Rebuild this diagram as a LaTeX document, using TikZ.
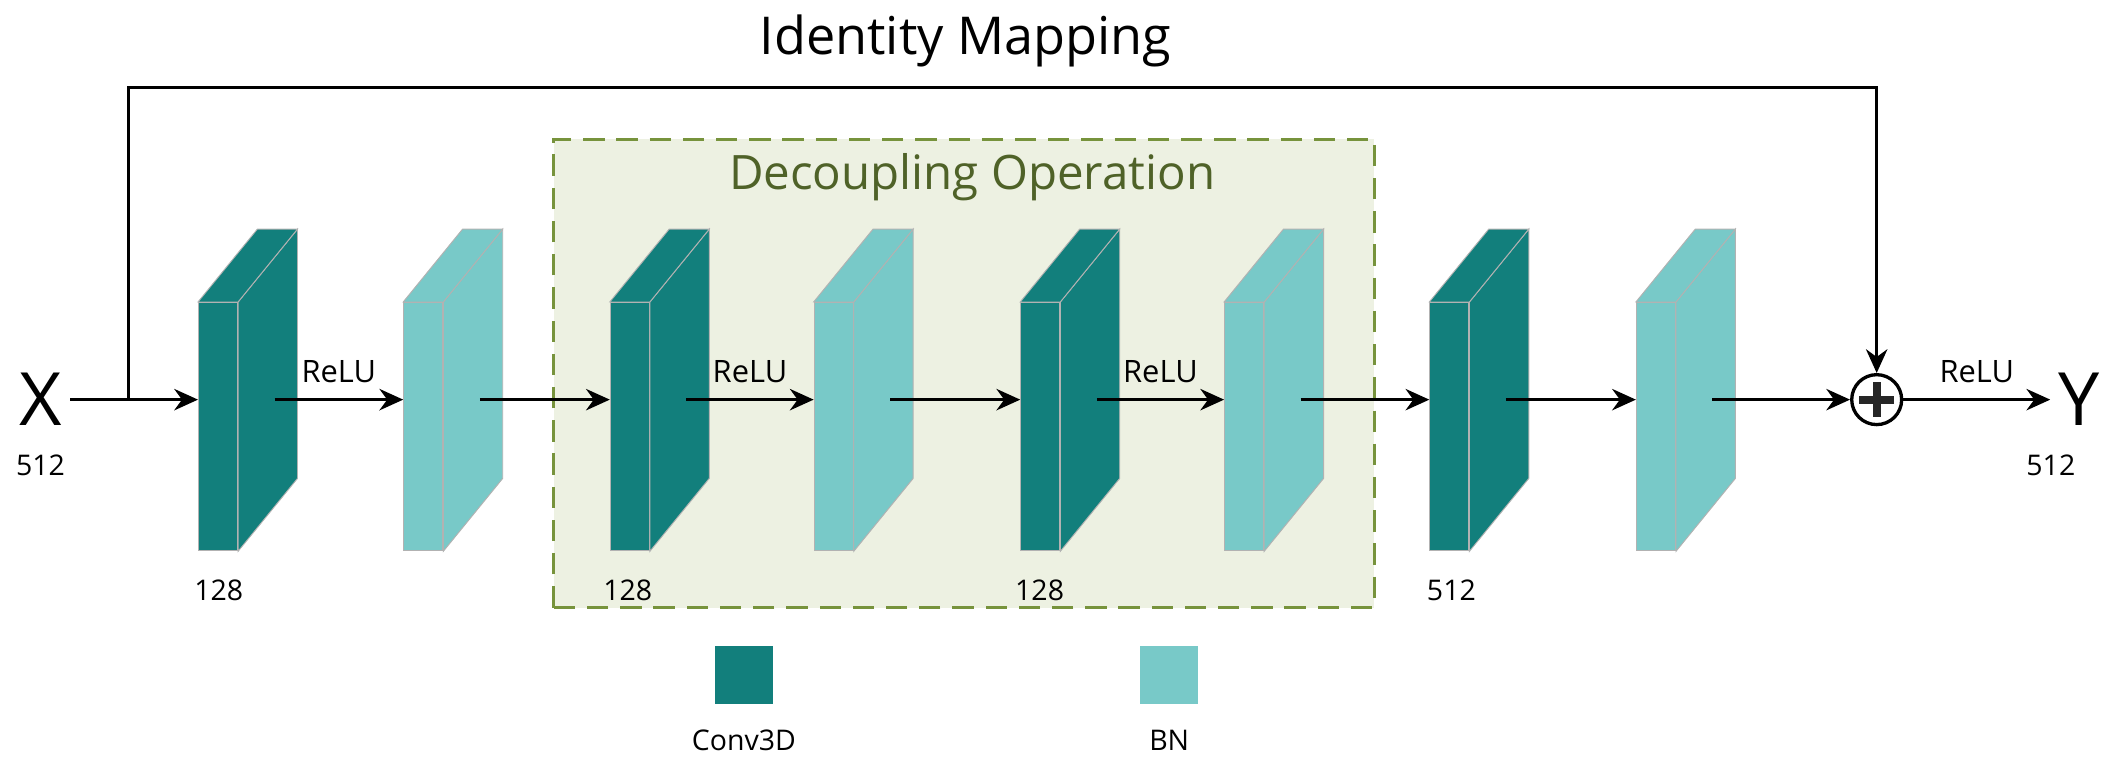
\documentclass[tikz,border=0pt]{standalone}
\usepackage{fontspec}
\setmainfont{Open Sans}
\usetikzlibrary{positioning,arrows.meta,calc}
\definecolor{convc}{HTML}{127F7C}
\definecolor{bnc}{HTML}{78C9C8}
\definecolor{boxfill}{HTML}{EDF1E2}
\definecolor{boxline}{HTML}{77933C}
\definecolor{boxtext}{HTML}{4F6228}
\begin{document}
\begin{tikzpicture}[x=0.02cm,y=0.02cm]
    \tikzset{face/.style={draw=gray!60,line width=0.4pt,minimum width=0.58cm,minimum height=3.68cm,inner sep=0pt},
             arr/.style={-{Stealth[length=10pt,width=9pt]},line width=1.4pt},
             lbl/.style={font=\fontsize{13}{13}\selectfont},
             num/.style={font=\fontsize{12}{12}\selectfont}}
    \useasboundingbox (0,0) rectangle (1568,562);

    % decoupling box
    \draw[boxline,fill=boxfill,line width=1.3pt,dash pattern=on 9pt off 5pt] (410,112) rectangle (1018,459);
    \node[text=boxtext,font=\fontsize{20}{20}\selectfont] (dec) at (720,431) {Decoupling Operation};

    % layers
    \foreach \n/\x/\c in {b1/147/convc,b2/299/bnc,b3/452/convc,b4/603/bnc,b5/756/convc,b6/907/bnc,b7/1059/convc,b8/1212/bnc}{
        \node[face,fill=\c] (\n) at (\x+14.5,246) {};
        \fill[\c,draw=gray!60,line width=0.4pt] (\n.north east) -- ++(44,54) -- ($(\n.south east)+(44,54)$) -- (\n.south east) -- cycle;
        \fill[\c,draw=gray!60,line width=0.4pt] (\n.north west) -- ++(44,54) -- ($(\n.north east)+(44,54)$) -- (\n.north east) -- cycle;
    }

    \node[font=\fontsize{31}{31}\selectfont] (X) at (30,266) {X};
    \node[num] (x512) at (30,217) {512};
    \node[draw,circle,line width=1.4pt,minimum size=0.74cm,inner sep=0pt] (add) at (1390,266) {};
    \fill[black!85] ($(add)+(-13,-3)$) rectangle ($(add)+(13,3)$);
    \fill[black!85] ($(add)+(-3,-13)$) rectangle ($(add)+(3,13)$);
    \node[font=\fontsize{31}{31}\selectfont] (Y) at (1540,266) {Y};
    \node[num] (y512) at (1519,217) {512};

    \node[num] (n1) at (162,125) {128};
    \node[num] (n2) at (465,125) {128};
    \node[num] (n3) at (770,125) {128};
    \node[num] (n4) at (1075,125) {512};

    \node[font=\fontsize{22}{22}\selectfont] (idm) at (715,532) {Identity Mapping};

    % main path
    \coordinate (split) at (95,266);
    \coordinate (top) at (95,497);
    \draw[arr] (X.east) -- (b1.west |- X);
    \draw[arr] ([xshift=0.54cm]b1.east |- X) -- (b2.west |- X) node[midway,above,lbl,yshift=3pt]{ReLU};
    \draw[arr] ([xshift=0.54cm]b2.east |- X) -- (b3.west |- X);
    \draw[arr] ([xshift=0.54cm]b3.east |- X) -- (b4.west |- X) node[midway,above,lbl,yshift=3pt]{ReLU};
    \draw[arr] ([xshift=0.54cm]b4.east |- X) -- (b5.west |- X);
    \draw[arr] ([xshift=0.54cm]b5.east |- X) -- (b6.west |- X) node[midway,above,lbl,yshift=3pt]{ReLU};
    \draw[arr] ([xshift=0.54cm]b6.east |- X) -- (b7.west |- X);
    \draw[arr] ([xshift=0.54cm]b7.east |- X) -- (b8.west |- X);
    \draw[arr] ([xshift=0.54cm]b8.east |- X) -- (add.west);
    \draw[arr] (add.east) -- (Y.west) node[midway,above,lbl,yshift=3pt]{ReLU};
    \draw[arr] (split) -- (top) -| (add.north);

    % legend
    \node[fill=convc,minimum size=0.86cm,inner sep=0pt] (lc) at (551,62) {};
    \node[num] (lct) at (551,14) {Conv3D};
    \node[fill=bnc,minimum size=0.86cm,inner sep=0pt] (lb) at (866,62) {};
    \node[num] (lbt) at (866,14) {BN};
\end{tikzpicture}
\end{document}
